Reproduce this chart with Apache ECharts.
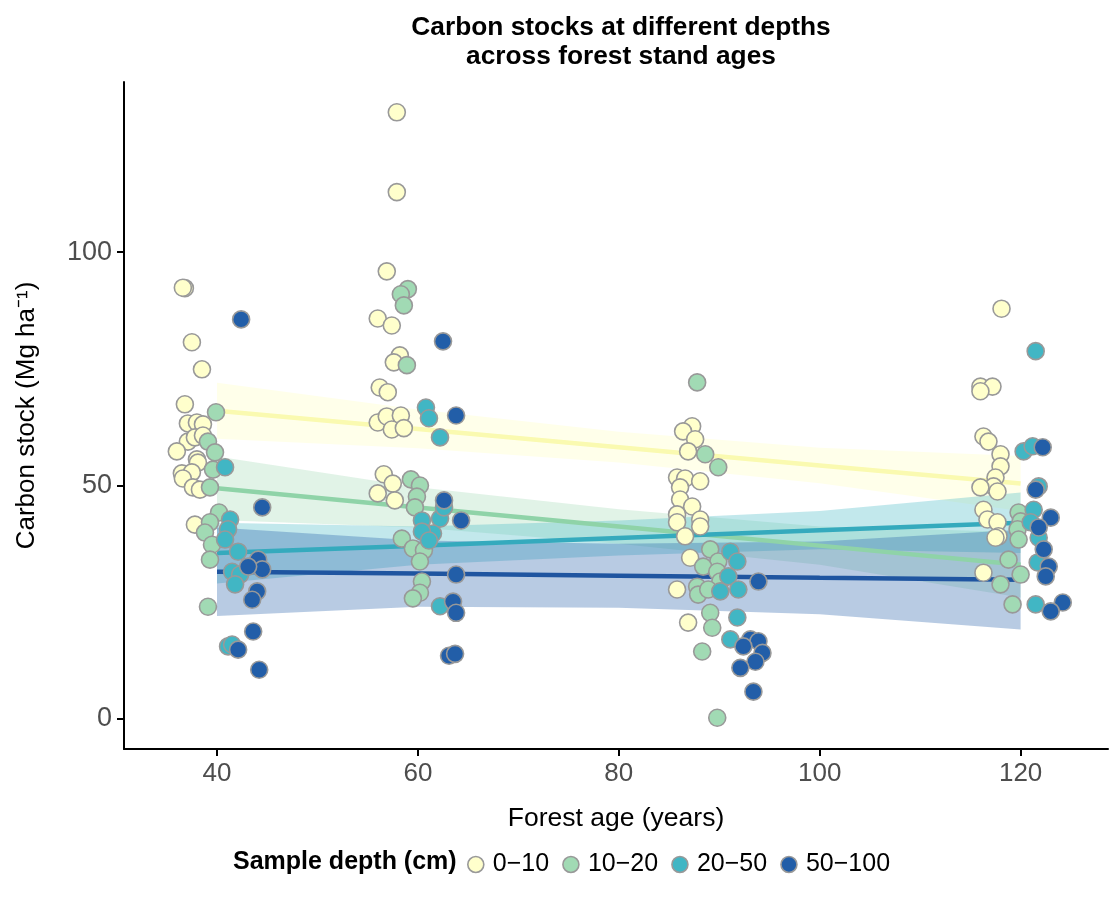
<!DOCTYPE html>
<html>
<head>
<meta charset="utf-8">
<script src="https://cdn.jsdelivr.net/npm/echarts@6/dist/echarts.min.js"></script>
<style>
html,body{margin:0;padding:0;background:#fff;}
#chart{width:1110px;height:911px;}
</style>
</head>
<body>
<div id="chart"></div>
<script>
// ---- data: [forest age (jittered), carbon stock] ----
const depthNames = ['0\u221210', '10\u221220', '20\u221250', '50\u2212100'];
const depthColors = ['#ffffcc', '#a1dab4', '#41b6c4', '#225ea8'];

const pts0_10 = [
  [36.8,92.3],[36.6,92.4],[37.5,80.7],[38.5,74.9],[36.8,67.4],[37.1,63.3],[38.0,63.5],[38.6,63.1],
  [37.1,59.4],[37.8,60.3],[38.6,60.7],[36.0,57.3],[38.0,55.6],[38.1,54.9],[36.5,52.6],[37.5,52.8],
  [36.6,51.5],[37.6,49.6],[38.3,49.1],[37.8,41.6],
  [57.9,130.0],[57.9,112.9],[56.9,95.9],[56.0,85.8],[57.4,84.3],[58.2,77.9],[57.6,76.4],[56.2,71.0],
  [57.0,70.0],[56.0,63.5],[56.9,64.8],[58.3,65.0],[57.4,62.0],[58.6,62.3],[56.6,52.4],[57.5,50.4],
  [56.0,48.3],[57.7,46.8],
  [87.3,62.7],[86.4,61.6],[87.6,59.9],[86.9,57.3],[85.8,51.7],[86.6,51.5],[88.1,50.9],[86.1,49.6],
  [86.1,47.0],[87.3,45.5],[85.8,43.8],[88.1,42.7],[88.1,41.2],[85.8,42.1],[86.6,39.1],[87.1,34.5],
  [85.8,27.7],[86.9,20.6],
  [118.1,87.9],[116.0,71.2],[117.2,71.2],[116.0,70.2],[116.3,60.5],[116.8,59.4],[118.0,56.7],[118.0,54.1],
  [117.5,51.7],[117.3,49.8],[117.7,48.7],[116.0,49.6],[116.3,44.8],[116.7,42.7],[117.7,42.1],[117.8,39.1],
  [117.5,38.8],[116.3,31.3]
];
const pts10_20 = [
  [39.9,65.7],[39.1,59.4],[39.8,57.1],[39.6,53.4],[39.3,49.6],[40.2,44.2],[39.3,42.1],[38.8,39.9],
  [39.5,37.3],[39.3,34.1],[39.1,24.0],
  [59.0,92.1],[58.3,91.0],[58.6,88.6],[58.9,75.8],[59.3,51.3],[60.2,50.0],[59.9,47.6],[59.7,45.3],
  [58.4,38.6],[59.5,36.5],[60.6,36.1],[60.2,33.7],[60.4,29.4],[60.2,27.0],[59.5,25.8],
  [87.8,72.1],[88.6,56.7],[89.9,53.9],[89.1,36.3],[89.9,33.7],[88.4,32.6],[89.8,31.5],[90.1,29.4],
  [87.8,28.3],[87.9,26.6],[88.9,27.7],[89.1,22.7],[89.3,19.5],[88.3,14.4],[89.8,0.2],
  [119.8,44.2],[120.0,42.3],[119.7,40.6],[119.8,38.4],[118.8,34.1],[120.0,30.9],[118.0,28.8],[119.2,24.5]
];
const pts20_50 = [
  [40.8,53.9],[41.3,42.7],[41.1,40.6],[40.8,38.4],[42.1,35.8],[41.5,31.5],[42.3,30.9],[41.8,28.8],
  [41.1,15.5],[41.5,15.9],
  [60.8,66.7],[61.1,64.4],[62.2,60.3],[60.4,42.5],[62.2,42.9],[61.5,39.7],[60.4,40.1],[61.1,38.2],
  [62.6,45.3],[62.2,24.1],
  [91.1,35.8],[91.8,33.7],[90.9,30.5],[91.9,27.7],[90.1,27.3],[91.8,21.7],[91.1,17.0],
  [121.5,78.8],[120.3,57.3],[121.2,58.4],[121.8,49.8],[121.3,44.8],[121.8,38.8],[121.7,33.5],[121.5,24.5],
  [121.0,42.1]
];
const pts50_100 = [
  [42.4,85.6],[44.5,45.3],[44.1,34.1],[44.5,32.0],[43.1,32.6],[44.0,27.3],[43.5,25.5],[43.6,18.7],
  [42.1,14.8],[44.2,10.5],
  [62.5,80.9],[63.8,65.0],[62.6,46.8],[64.3,42.5],[63.8,30.9],[63.5,25.1],[63.8,22.7],[63.1,13.5],[63.7,13.9],
  [93.9,29.4],[93.1,17.0],[93.9,16.6],[92.4,15.5],[94.3,14.1],[93.6,12.2],[92.1,10.9],[93.4,5.8],
  [122.2,58.2],[121.5,49.1],[123.0,43.1],[121.8,41.0],[122.3,36.3],[122.8,32.6],[122.5,30.5],[124.2,24.9],[123.0,23.0]
];

// ---- fitted linear trends ----
const fitAges = [40, 60, 80, 100, 120];
const fit0_10   = [66.0, 62.1, 58.2, 54.3, 50.4];
const lo0_10    = [60.0, 58.0, 54.9, 50.5, 44.5];
const hi0_10    = [72.0, 66.3, 61.5, 58.1, 56.3];
const fit10_20  = [49.4, 45.3, 41.2, 37.1, 33.0];
const lo10_20   = [42.6, 41.0, 37.5, 33.0, 26.0];
const hi10_20   = [56.2, 49.6, 44.9, 41.2, 40.0];
const fit20_50  = [35.5, 37.1, 38.75, 40.4, 42.0];
const lo20_50   = [29.0, 33.0, 35.0, 36.3, 35.5];
const hi20_50   = [42.0, 41.2, 42.5, 44.5, 48.5];
const fit50_100 = [31.5, 31.1, 30.65, 30.2, 29.8];
const lo50_100  = [22.0, 24.0, 23.8, 22.4, 19.1];
const hi50_100  = [41.0, 38.2, 37.5, 38.0, 40.5];

const xTicks = [40, 60, 80, 100, 120];
const yTicks = [0, 50, 100];

const allPts = [pts0_10, pts10_20, pts20_50, pts50_100];
const allFit = [fit0_10, fit10_20, fit20_50, fit50_100];
const allLo = [lo0_10, lo10_20, lo20_50, lo50_100];
const allHi = [hi0_10, hi10_20, hi20_50, hi50_100];
const lineColors = ['#fafab0', '#8fd3a8', '#35aabd', '#1f55a0'];
const bandOpacity = [0.42, 0.32, 0.32, 0.32];

const FONT = 'Liberation Sans, Arial, sans-serif';
const chart = echarts.init(document.getElementById('chart'), null, {renderer: 'canvas'});

const series = [];
// ribbons
for (let k = 0; k < 4; k++) {
  const lo = allLo[k], hi = allHi[k], col = depthColors[k], op = bandOpacity[k];
  series.push({
    type: 'custom',
    name: 'band' + k,
    data: [0],
    z: 1,
    silent: true,
    renderItem: function (params, api) {
      const pts = [];
      for (let i = 0; i < fitAges.length; i++) pts.push(api.coord([fitAges[i], hi[i]]));
      for (let i = fitAges.length - 1; i >= 0; i--) pts.push(api.coord([fitAges[i], lo[i]]));
      return {
        type: 'polygon',
        shape: {points: pts},
        style: {fill: col, opacity: op}
      };
    }
  });
}
// fitted lines
for (let k = 0; k < 4; k++) {
  series.push({
    type: 'line',
    name: 'fit' + k,
    data: fitAges.map((a, i) => [a, allFit[k][i]]),
    symbol: 'none',
    z: 2,
    silent: true,
    lineStyle: {color: lineColors[k], width: 4.5}
  });
}
// points
for (let k = 0; k < 4; k++) {
  series.push({
    type: 'scatter',
    name: depthNames[k],
    data: allPts[k],
    symbol: 'circle',
    symbolSize: 17,
    z: 5,
    itemStyle: {color: depthColors[k], borderColor: '#999999', borderWidth: 1.6, opacity: 1}
  });
}

chart.setOption({
  animation: false,
  backgroundColor: '#ffffff',
  title: {
    text: 'Carbon stocks at different depths\nacross forest stand ages',
    left: 616,
    top: 8,
    textAlign: 'center',
    textStyle: {fontFamily: FONT, fontSize: 26.3, fontWeight: 'bold', color: '#000', lineHeight: 29}
  },
  grid: {left: 124, right: 2, top: 82, bottom: 162},
  legend: {
    data: depthNames,
    left: 462,
    top: 847,
    itemWidth: 16,
    itemHeight: 16,
    itemGap: 13,
    icon: 'circle',
    textStyle: {fontFamily: FONT, fontSize: 25, color: '#000', padding: [0, 0, 0, 4]},
    itemStyle: {borderColor: '#999999', borderWidth: 1.6}
  },
  graphic: [{
    type: 'text',
    left: 233,
    top: 850,
    style: {text: 'Sample depth (cm)', font: 'bold 25px ' + FONT, fill: '#000'}
  }],
  xAxis: {
    type: 'value',
    min: 30.74,
    max: 128.7,
    name: 'Forest age (years)',
    nameLocation: 'middle',
    nameGap: 56,
    nameTextStyle: {fontFamily: FONT, fontSize: 26.5, color: '#000'},
    splitLine: {show: false},
    axisLine: {show: true, onZero: false, lineStyle: {color: '#000', width: 2}},
    axisTick: {show: true, length: 7, lineStyle: {color: '#000', width: 2}, customValues: xTicks},
    axisLabel: {customValues: xTicks, fontFamily: FONT, fontSize: 26, color: '#4d4d4d', margin: 12}
  },
  yAxis: {
    type: 'value',
    min: -6.5,
    max: 136.5,
    name: 'Carbon stock (Mg ha\u207B\u00B9)',
    nameLocation: 'middle',
    nameRotate: 90,
    nameGap: 84,
    nameTextStyle: {fontFamily: FONT, fontSize: 26, color: '#000'},
    splitLine: {show: false},
    axisLine: {show: true, onZero: false, lineStyle: {color: '#000', width: 2}},
    axisTick: {show: true, length: 7, lineStyle: {color: '#000', width: 2}, customValues: yTicks},
    axisLabel: {customValues: yTicks, fontFamily: FONT, fontSize: 27, color: '#4d4d4d', margin: 12}
  },
  series: series
});
</script>
</body>
</html>
